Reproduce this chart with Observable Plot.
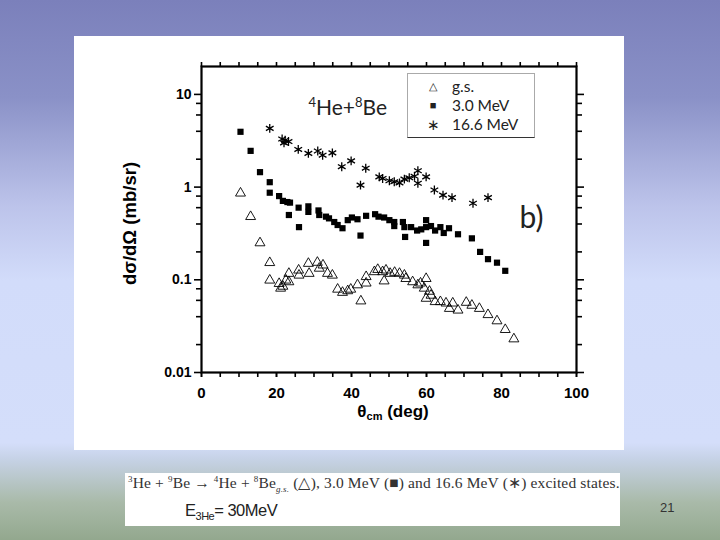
<!DOCTYPE html>
<html>
<head>
<meta charset="utf-8">
<script src="https://cdn.jsdelivr.net/npm/d3@7"></script>
<script src="https://cdn.jsdelivr.net/npm/@observablehq/plot@0.6"></script>
<style>
  html, body { margin:0; padding:0; overflow:hidden; }
  #slide { position:relative; width:720px; height:540px;
    background: linear-gradient(to bottom, #7b80bb 0%, #8a91c7 18%, #bcc3ea 38%, #d2dcfa 52%, #d4defa 82%, #c6d2e6 85%, #a9baa9 93%, #93a88e 100%); }
  #panel { position:absolute; left:74px; top:36px; width:550px; height:414px; background:#fff; }
  #legend { position:absolute; left:407px; top:73px; width:126px; height:63px; background:#fff;
    border:1px solid #aaa; border-bottom:1.5px solid #333; font-family:Lato, 'Open Sans', sans-serif; font-size:15.5px; color:#222; }
  #legend .row { position:absolute; left:0; width:126px; height:16px; line-height:16px; }
  #legend .sym { position:absolute; left:18px; width:14px; text-align:center; font-size:11px; }
  #legend .lab { position:absolute; left:44px; }
  #caption { position:absolute; left:125px; top:473px; width:495px; height:53px; background:#fff; }
  #cap1 { position:absolute; left:3px; top:1px; font-family:'Liberation Serif', serif; font-size:15.5px; color:#333; white-space:nowrap; letter-spacing:0.15px; }
  #cap2 { position:absolute; left:60px; top:28px; font-family:'Liberation Sans', Arial, sans-serif; font-size:16.5px; color:#222; letter-spacing:-0.5px; }
  #pagenum { position:absolute; left:660px; top:500px; font-family:'Liberation Sans', Arial, sans-serif; font-size:13px; color:#333; }
</style>
</head>
<body>
<div id="slide">
  <div id="panel"></div>
  <div id="legend"></div>
  <div id="caption">
    <div id="cap1"><sup style="font-size:9px">3</sup>He + <sup style="font-size:9px">9</sup>Be → <sup style="font-size:9px">4</sup>He + <sup style="font-size:9px">8</sup>Be<sub style="font-size:9px;font-style:italic">g.s.</sub> (△), 3.0 MeV (■) and 16.6 MeV (∗) excited states.</div>
    <div id="cap2">E<sub style="font-size:11px">3He</sub>= 30MeV</div>
  </div>
  <div id="pagenum">21</div>
</div>
<script>
// ---- data ----
const gsAngle = [10.4,13.1,15.6,18.2,18.2,20.7,21.1,21.7,22.5,23.3,23.3,25.9,26.0,28.5,28.7,30.9,31.4,32.4,33.6,34.9,36.3,37.6,39.0,39.8,41.6,42.5,43.9,43.9,46.1,47.0,48.3,48.7,49.2,50.3,51.5,52.8,54.1,54.5,56.3,57.7,58.4,59.9,59.4,60.8,59.9,61.2,62.3,63.7,65.2,66.1,67.0,68.4,70.6,72.1,74.1,76.4,78.8,81.0,83.3];
const gsXs    = [0.86,0.48,0.25,0.153,0.099,0.091,0.081,0.085,0.099,0.117,0.095,0.127,0.112,0.150,0.117,0.154,0.133,0.144,0.117,0.112,0.079,0.073,0.076,0.079,0.088,0.059,0.108,0.092,0.122,0.129,0.122,0.097,0.127,0.117,0.120,0.117,0.112,0.103,0.095,0.088,0.092,0.103,0.081,0.075,0.063,0.068,0.058,0.058,0.056,0.049,0.056,0.047,0.057,0.053,0.049,0.042,0.036,0.029,0.023];

const e30Angle = [10.4,13.1,15.6,18.2,18.2,20.7,21.7,22.9,23.6,23.3,25.9,26.0,28.5,28.5,31.2,31.4,33.2,34.0,35.4,36.3,37.6,39.0,40.1,41.6,42.4,43.9,46.3,47.2,48.7,50.1,51.4,51.4,53.7,54.1,54.3,55.9,57.5,58.6,59.9,59.9,59.9,61.2,62.3,63.7,64.6,66.0,68.4,72.1,74.3,76.4,78.8,81.0];
const e30Xs    = [3.95,2.46,1.45,1.13,0.87,0.80,0.71,0.69,0.68,0.50,0.60,0.37,0.62,0.54,0.56,0.50,0.48,0.46,0.42,0.39,0.36,0.44,0.47,0.45,0.30,0.49,0.51,0.48,0.47,0.44,0.42,0.38,0.42,0.37,0.29,0.37,0.34,0.35,0.44,0.37,0.25,0.38,0.34,0.37,0.32,0.36,0.31,0.28,0.20,0.167,0.153,0.125];

const e166Angle = [18.2,21.5,22.3,23.2,22.0,25.8,28.5,31.0,32.3,34.9,37.4,39.9,42.4,43.8,47.4,48.3,50.1,51.4,52.8,54.1,55.4,56.8,57.7,57.7,59.9,62.1,64.4,66.8,72.4,76.4];
const e166Xs    = [4.3,3.3,3.2,3.1,3.0,2.55,2.31,2.45,2.21,2.34,1.66,1.92,1.05,1.60,1.29,1.24,1.17,1.14,1.11,1.22,1.26,1.31,1.50,1.10,1.29,0.93,0.82,0.77,0.67,0.77];

const xMajor = [0,20,40,60,80,100];
const xMinor = [0,5,10,15,20,25,30,35,40,45,50,55,60,65,70,75,80,85,90,95,100];
const yMajor = [0.01,0.1,1,10];
const yMinor = [0.02,0.04,0.06,0.08,0.2,0.4,0.6,0.8,2,4,6,8];

const legendNames = ["g.s.","3.0 MeV","16.6 MeV"];
const legendSyms = ["△","■","∗"];
const xLabel = "θcm (deg)";
const yLabel = "dσ/dΩ (mb/sr)";
const titleText = "⁴He+⁸Be";
const panelTag = "b)";

const toRows = (a, b) => a.map((v, i) => ({x: v, y: b[i]}));
const gs = toRows(gsAngle, gsXs);
const e30 = toRows(e30Angle, e30Xs);
const e166 = toRows(e166Angle, e166Xs);

const sans = "'Liberation Sans', Arial, sans-serif";
const human = "Lato, 'Open Sans', sans-serif";
const chart = Plot.plot({
  width: 550, height: 414,
  marginLeft: 127, marginRight: 48, marginTop: 30, marginBottom: 78,
  style: {fontFamily: sans, background: "transparent", color: "#000"},
  x: {domain: [0, 100]},
  y: {type: "log", domain: [0.01, 20]},
  marks: [
    Plot.axisX({ticks: xMinor, tickSize: 5, text: null, label: null, strokeWidth: 1.6}),
    Plot.axisX({ticks: xMajor, tickSize: 5, tickPadding: 10, fontSize: 15, fontWeight: "bold", label: null, strokeWidth: 1.6}),
    Plot.axisX({anchor: "top", ticks: xMinor, tickSize: 5, text: null, label: null, strokeWidth: 1.6}),
    Plot.axisY({ticks: yMinor, tickSize: 5, text: null, label: null, strokeWidth: 1.6}),
    Plot.axisY({ticks: yMajor, tickSize: 7, tickPadding: 3, fontSize: 14, fontWeight: "bold", label: null, strokeWidth: 1.6, tickFormat: d => String(d)}),
    Plot.axisY({anchor: "right", ticks: yMinor, tickSize: 5, text: null, label: null, strokeWidth: 1.6}),
    Plot.axisY({anchor: "right", ticks: yMajor, tickSize: 7, text: null, label: null, strokeWidth: 1.6}),
    Plot.text([yLabel], {text: d => d, frameAnchor: "left", textAnchor: "middle", lineAnchor: "middle", rotate: -90, dx: -71, dy: 4, fontSize: 18.5, fontWeight: "bold"}),
    Plot.text([xLabel], {text: d => d, frameAnchor: "bottom", dy: 44, dx: 4, fontSize: 17, fontWeight: "bold"}),
    Plot.text([titleText], {text: d => d, x: 39, y: 7.1, fontSize: 21, fontFamily: human, fill: "#222"}),
    Plot.text([panelTag], {text: d => d, x: 88, y: 0.46, fontSize: 30, fontFamily: human, fill: "#222"}),
    Plot.dot(gs, {x: "x", y: "y", symbol: "triangle", r: 3.7, stroke: "black", fill: "none", strokeWidth: 0.9}),
    Plot.dot(e30, {x: "x", y: "y", symbol: "square", r: 3.5, fill: "black", stroke: "none"}),
    Plot.dot(e166, {x: "x", y: "y", symbol: "asterisk", r: 4.2, stroke: "black", strokeWidth: 1.3}),
    Plot.frame({strokeWidth: 2.2})
  ]
});

const supMap = {"⁴": "4", "⁸": "8"};
d3.select(chart).selectAll("text").each(function() {
  const txt = this.textContent;
  const t = d3.select(this);
  if (txt === xLabel) {
    t.text(null);
    t.append("tspan").text("θ");
    t.append("tspan").attr("font-size", 11).attr("dy", 3).text("cm");
    t.append("tspan").attr("dy", -3).text(" (deg)");
  } else if (txt === titleText) {
    t.text(null);
    let raised = false;
    for (const ch of txt) {
      if (supMap[ch]) {
        t.append("tspan").attr("font-size", 13).attr("dy", raised ? 0 : -8).text(supMap[ch]);
        raised = true;
      } else {
        t.append("tspan").attr("dy", raised ? 8 : 0).text(ch);
        raised = false;
      }
    }
  }
});

document.getElementById("panel").appendChild(chart);

// legend
const leg = document.getElementById("legend");
const rowTops = [4, 23, 42];
legendNames.forEach((n, i) => {
  const r = document.createElement("div");
  r.className = "row";
  r.style.top = rowTops[i] + "px";
  r.innerHTML = `<span class="sym" style="${i===2?'font-size:15px':''}">${legendSyms[i]}</span><span class="lab">${n}</span>`;
  leg.appendChild(r);
});
</script>
</body>
</html>
